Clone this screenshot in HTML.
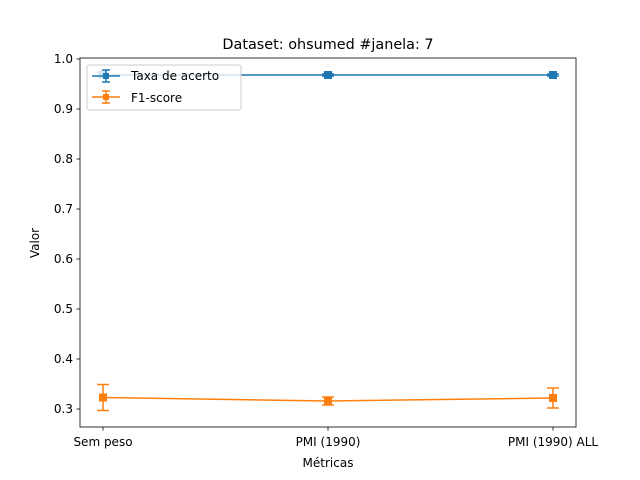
<!DOCTYPE html>
<html><head><meta charset="utf-8"><style>body{margin:0;background:#fff}svg{display:block}text{font-family:"DejaVu Sans","Liberation Sans",sans-serif}</style></head>
<body>
<svg id="chart" width="640" height="480">
<rect width="640" height="480" fill="#fff"/>
<text x="328" y="49" font-size="14.4" text-anchor="middle">Dataset: ohsumed #janela: 7</text>
<g id="marks"></g>
<rect x="80" y="58" width="496" height="369" fill="none" stroke="#000" stroke-width="0.8"/>
<g id="ticks"></g>
<text x="328" y="467" font-size="12" text-anchor="middle">Métricas</text>
<text transform="translate(39,243) rotate(-90)" font-size="12" text-anchor="middle">Valor</text>
<g>
<rect x="87" y="65" width="154" height="45" rx="2" fill="#fff" fill-opacity="0.8" stroke="#ccc"/>
<g>
<line x1="92" y1="76" x2="120" y2="76" stroke="#1f77b4" stroke-width="1.5"/><line x1="106" y1="70" x2="106" y2="82" stroke="#1f77b4" stroke-width="1.5"/><line x1="102" y1="70" x2="110" y2="70" stroke="#1f77b4" stroke-width="1.5"/><line x1="102" y1="82" x2="110" y2="82" stroke="#1f77b4" stroke-width="1.5"/><rect x="103" y="73" width="6" height="6" fill="#1f77b4"/>
<text x="131" y="80" font-size="12">Taxa de acerto</text></g>
<g>
<line x1="92" y1="97" x2="120" y2="97" stroke="#ff7f0e" stroke-width="1.5"/><line x1="106" y1="91" x2="106" y2="103" stroke="#ff7f0e" stroke-width="1.5"/><line x1="102" y1="91" x2="110" y2="91" stroke="#ff7f0e" stroke-width="1.5"/><line x1="102" y1="103" x2="110" y2="103" stroke="#ff7f0e" stroke-width="1.5"/><rect x="103" y="94" width="6" height="6" fill="#ff7f0e"/>
<text x="131" y="102" font-size="12">F1-score</text></g>
</g>
</svg>
<script>
const categories=["Sem peso","PMI (1990)","PMI (1990) ALL"];
const accValues=[0.968,0.968,0.968];
const accErr=[0.004,0.002,0.002];
const f1Values=[0.323,0.316,0.322];
const f1Err=[0.026,0.008,0.020];
const yTicks=[0.3,0.4,0.5,0.6,0.7,0.8,0.9,1.0];
const NS="http://www.w3.org/2000/svg";
const X=i=>103+i*225;
const Y=v=>59+(1-v)*500;
function mk(t,a,p){const e=document.createElementNS(NS,t);for(const k in a)e.setAttribute(k,a[k]);p.appendChild(e);return e;}
const marks=document.getElementById('marks'),ticks=document.getElementById('ticks');
function series(vals,errs,color,name){
  const g=mk('g',{},marks);
  
  
  const line=mk('polyline',{points:vals.map((v,i)=>X(i)+','+Y(v)).join(' '),fill:'none',stroke:color,'stroke-width':1.5},g);
  
  
  vals.forEach((v,i)=>{
    const x=X(i),y1=Y(v+errs[i]),y2=Y(v-errs[i]);
    const eb=mk('g',{stroke:color,'stroke-width':1.5},g);
    
    
    mk('line',{x1:x,x2:x,y1:y1,y2:y2},eb);
    mk('line',{x1:x-6,x2:x+6,y1:y1,y2:y1},eb);
    mk('line',{x1:x-6,x2:x+6,y1:y2,y2:y2},eb);
    const m=mk('rect',{x:x-4,y:Y(v)-4,width:8,height:8,fill:color},g);
    
    
  });
}
series(accValues,accErr,'#1f77b4','taxa-de-acerto');
series(f1Values,f1Err,'#ff7f0e','f1-score');
yTicks.forEach(v=>{
  const y=Y(v);
  mk('line',{x1:76.5,x2:80,y1:y,y2:y,stroke:'#000','stroke-width':0.8},ticks);
  const t=mk('text',{x:73,y:y+4,'font-size':12,'text-anchor':'end'},ticks);
  t.textContent=v.toFixed(1);
  
  
});
categories.forEach((c,i)=>{
  const x=X(i);
  mk('line',{x1:x,x2:x,y1:427,y2:430.5,stroke:'#000','stroke-width':0.8},ticks);
  const t=mk('text',{x:x,y:446,'font-size':12,'text-anchor':'middle'},ticks);
  t.textContent=c;
  
  
});
</script>
</body></html>
